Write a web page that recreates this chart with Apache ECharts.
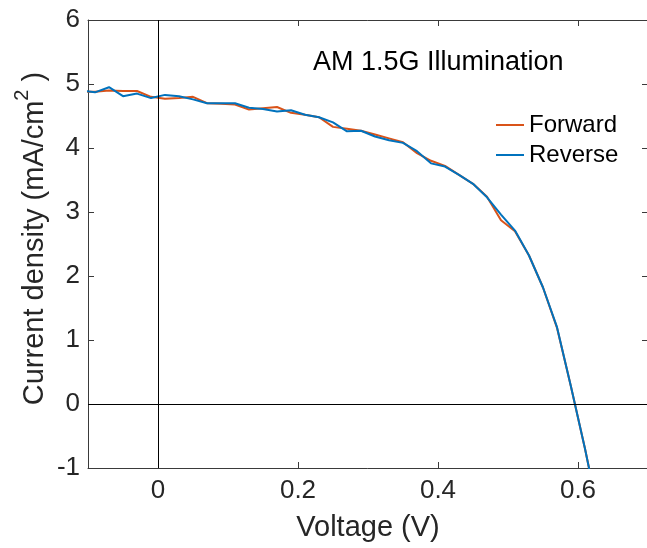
<!DOCTYPE html>
<html>
<head>
<meta charset="utf-8">
<script src="https://cdn.jsdelivr.net/npm/echarts@6/dist/echarts.min.js"></script>
<style>html,body{margin:0;padding:0;background:#fff}#c{width:647px;height:548px}</style>
</head>
<body>
<div id="c"></div>
<script>
const voltage = [-0.11, -0.09, -0.07, -0.05, -0.03, -0.01, 0.01, 0.03, 0.05, 0.07, 0.09, 0.11, 0.13, 0.15, 0.17, 0.19, 0.21, 0.23, 0.25, 0.27, 0.29, 0.31, 0.33, 0.35, 0.37, 0.39, 0.41, 0.43, 0.45, 0.47, 0.49, 0.51, 0.53, 0.55, 0.57, 0.59, 0.61, 0.63];
const forwardJ = [4.88, 4.88, 4.90, 4.89, 4.89, 4.80, 4.77, 4.78, 4.80, 4.70, 4.69, 4.68, 4.60, 4.62, 4.64, 4.55, 4.52, 4.48, 4.33, 4.30, 4.27, 4.21, 4.15, 4.09, 3.92, 3.80, 3.72, 3.58, 3.44, 3.24, 2.87, 2.70, 2.32, 1.82, 1.19, 0.27, -0.70, -1.75];
const reverseJ = [4.90, 4.87, 4.95, 4.81, 4.85, 4.78, 4.83, 4.81, 4.76, 4.70, 4.70, 4.70, 4.63, 4.61, 4.57, 4.59, 4.52, 4.48, 4.40, 4.26, 4.27, 4.18, 4.12, 4.08, 3.95, 3.76, 3.71, 3.58, 3.44, 3.23, 2.96, 2.71, 2.32, 1.82, 1.20, 0.27, -0.70, -1.75];
const xTickValues = [0, 0.2, 0.4, 0.6];
const seriesNames = ['Forward', 'Reverse'];
const annotation = 'AM 1.5G Illumination';
const xTitle = 'Voltage (V)';

const FONT = 'Liberation Sans, Arial, Helvetica, sans-serif';
const AX = '#3a3a3a';
const chart = echarts.init(document.getElementById('c'), null, {renderer: 'canvas'});

const axisCommon = {
  axisLine: {show: true, onZero: false, lineStyle: {color: AX, width: 1}},
  axisTick: {show: true, inside: true, length: 6, lineStyle: {color: AX, width: 1}},
  splitLine: {show: false}
};

const option = {
  animation: false,
  backgroundColor: '#fff',
  grid: {left: 88, top: 20, width: 560, height: 448, containLabel: false, outerBoundsMode: 'none'},
  xAxis: [
    Object.assign({}, axisCommon, {
      type: 'value', min: -0.1, max: 0.7, position: 'bottom',
      axisTick: Object.assign({}, axisCommon.axisTick, {customValues: xTickValues}),
      axisLabel: {customValues: xTickValues, fontSize: 26, fontFamily: FONT, color: '#262626', margin: 10,
        formatter: v => String(Math.round(v * 10) / 10)},
      name: xTitle, nameLocation: 'middle', nameGap: 45, nameMoveOverlap: false,
      nameTextStyle: {fontSize: 29, fontFamily: FONT, color: '#262626'}
    }),
    Object.assign({}, axisCommon, {
      type: 'value', min: -0.1, max: 0.7, position: 'top',
      axisTick: Object.assign({}, axisCommon.axisTick, {customValues: xTickValues}),
      axisLabel: {show: false}
    })
  ],
  yAxis: [
    Object.assign({}, axisCommon, {
      type: 'value', min: -1, max: 6, interval: 1, position: 'left',
      axisLabel: {fontSize: 26, fontFamily: FONT, color: '#262626', margin: 8}
    }),
    Object.assign({}, axisCommon, {
      type: 'value', min: -1, max: 6, interval: 1, position: 'right',
      axisLabel: {show: false}
    })
  ],
  legend: {
    data: seriesNames, orient: 'vertical', left: 496, top: 113,
    icon: 'rect', itemWidth: 28, itemHeight: 2, itemGap: 6, padding: 0,
    textStyle: {fontSize: 24, lineHeight: 24, fontFamily: FONT, color: '#000'}
  },
  graphic: [
    {type: 'text', x: 313, y: 63, silent: true,
      style: {text: annotation, fontSize: 27, fontFamily: FONT, fill: '#000', align: 'left', verticalAlign: 'middle'}},
    {type: 'text', x: 34.5, y: 238.5, rotation: Math.PI / 2, silent: true,
      style: {text: 'Current density (mA/cm{sup|2} )', fontSize: 29, lineHeight: 44, fontFamily: FONT, fill: '#262626',
        align: 'center', verticalAlign: 'middle',
        rich: {sup: {fontSize: 20, lineHeight: 20, fontFamily: FONT, fill: '#262626', verticalAlign: 'top'}}}}
  ],
  series: [
    {
      name: seriesNames[0], type: 'line', xAxisIndex: 0, yAxisIndex: 0,
      data: voltage.map((v, i) => [v, forwardJ[i]]),
      showSymbol: false, symbol: 'none', clip: true,
      lineStyle: {color: '#D95319', width: 2}, itemStyle: {color: '#D95319'},
      markLine: {silent: true, symbol: 'none', label: {show: false}, animation: false,
        lineStyle: {color: '#000', width: 1, type: 'solid'},
        data: [{xAxis: 0}, {yAxis: 0}]}
    },
    {
      name: seriesNames[1], type: 'line', xAxisIndex: 0, yAxisIndex: 0,
      data: voltage.map((v, i) => [v, reverseJ[i]]),
      showSymbol: false, symbol: 'none', clip: true,
      lineStyle: {color: '#0072BD', width: 2}, itemStyle: {color: '#0072BD'}
    }
  ]
};
chart.setOption(option);
</script>
</body>
</html>
